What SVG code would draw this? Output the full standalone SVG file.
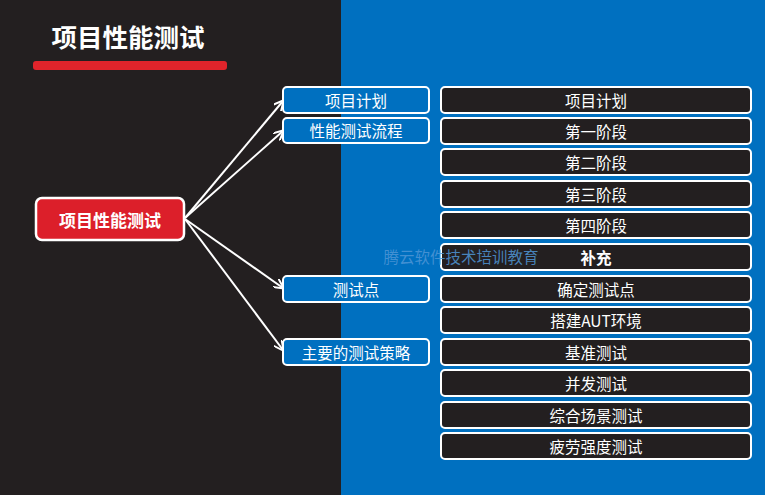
<svg xmlns="http://www.w3.org/2000/svg" width="765" height="495" viewBox="0 0 765 495">
<defs>
<style>
text{font-family:"Microsoft YaHei","Noto Sans CJK SC","Liberation Sans",sans-serif;fill:#ffffff;text-anchor:middle;dominant-baseline:central}
.mid rect{fill:#0070c0;stroke:#ffffff;stroke-width:2}
.right rect{fill:#231f20;stroke:#ffffff;stroke-width:2}
.lbl{font-size:15.5px}
.conn line{stroke:#ffffff;stroke-width:2}
</style>
<marker id="arr" viewBox="0 0 10 10" refX="9" refY="5" markerWidth="5" markerHeight="5" orient="auto">
<path d="M0,0 L10,5 L0,10" fill="none" stroke="#ffffff" stroke-width="2"/>
</marker>
</defs>
<rect x="0" y="0" width="341" height="495" fill="#231f20"/>
<rect x="341" y="0" width="424" height="495" fill="#0070c0"/>
<g id="title">
<text x="128" y="35" style="font-size:25.5px;font-weight:bold">项目性能测试</text>
<rect x="33" y="61" width="194" height="9" rx="3" fill="#e0242b"/>
</g>
<g class="conn">
<line x1="185" y1="218" x2="283" y2="101" marker-end="url(#arr)"/>
<line x1="185" y1="218" x2="283" y2="131" marker-end="url(#arr)"/>
<line x1="185" y1="219" x2="283" y2="288" marker-end="url(#arr)"/>
<line x1="185" y1="219" x2="283" y2="350" marker-end="url(#arr)"/>
</g>
<g id="root">
<rect x="36" y="198" width="148" height="42" rx="6" fill="#dc1f2a" stroke="#ffffff" stroke-width="2.5"/>
<text x="110" y="219" style="font-size:17px;font-weight:bold">项目性能测试</text>
</g>
<g id="m1" class="mid"><rect x="283" y="87" width="146" height="26" rx="4"/><text class="lbl" x="356" y="99.5">项目计划</text></g>
<g id="m2" class="mid"><rect x="283" y="118" width="146" height="25" rx="4"/><text class="lbl" x="356" y="130">性能测试流程</text></g>
<g id="m3" class="mid"><rect x="283" y="276" width="146" height="26" rx="4"/><text class="lbl" x="356" y="288.5">测试点</text></g>
<g id="m4" class="mid"><rect x="283" y="339" width="146" height="26" rx="4"/><text class="lbl" x="356" y="351.5">主要的测试策略</text></g>
<g id="r1" class="right"><rect x="441" y="87" width="310" height="26" rx="4"/><text class="lbl" x="596" y="99.5">项目计划</text></g>
<g id="r2" class="right"><rect x="441" y="118" width="310" height="26" rx="4"/><text class="lbl" x="596" y="130.5">第一阶段</text></g>
<g id="r3" class="right"><rect x="441" y="149" width="310" height="26" rx="4"/><text class="lbl" x="596" y="161.5">第二阶段</text></g>
<g id="r4" class="right"><rect x="441" y="181" width="310" height="26" rx="4"/><text class="lbl" x="596" y="193.5">第三阶段</text></g>
<g id="r5" class="right"><rect x="441" y="212" width="310" height="26" rx="4"/><text class="lbl" x="596" y="224.5">第四阶段</text></g>
<g id="r6" class="right"><rect x="441" y="244" width="310" height="26" rx="4"/><text class="lbl" x="596" y="256.5" style="font-weight:bold">补充</text></g>
<g id="r7" class="right"><rect x="441" y="276" width="310" height="26" rx="4"/><text class="lbl" x="596" y="288.5">确定测试点</text></g>
<g id="r8" class="right"><rect x="441" y="307" width="310" height="26" rx="4"/><text class="lbl" x="596" y="319.5">搭建AUT环境</text></g>
<g id="r9" class="right"><rect x="441" y="339" width="310" height="26" rx="4"/><text class="lbl" x="596" y="351.5">基准测试</text></g>
<g id="r10" class="right"><rect x="441" y="370" width="310" height="26" rx="4"/><text class="lbl" x="596" y="382.5">并发测试</text></g>
<g id="r11" class="right"><rect x="441" y="402" width="310" height="26" rx="4"/><text class="lbl" x="596" y="414.5">综合场景测试</text></g>
<g id="r12" class="right"><rect x="441" y="433" width="310" height="26" rx="4"/><text class="lbl" x="596" y="445.5">疲劳强度测试</text></g>
<text x="461" y="256" style="font-size:15.5px;fill:#4f96d6;fill-opacity:0.85">腾云软件技术培训教育</text>
</svg>
